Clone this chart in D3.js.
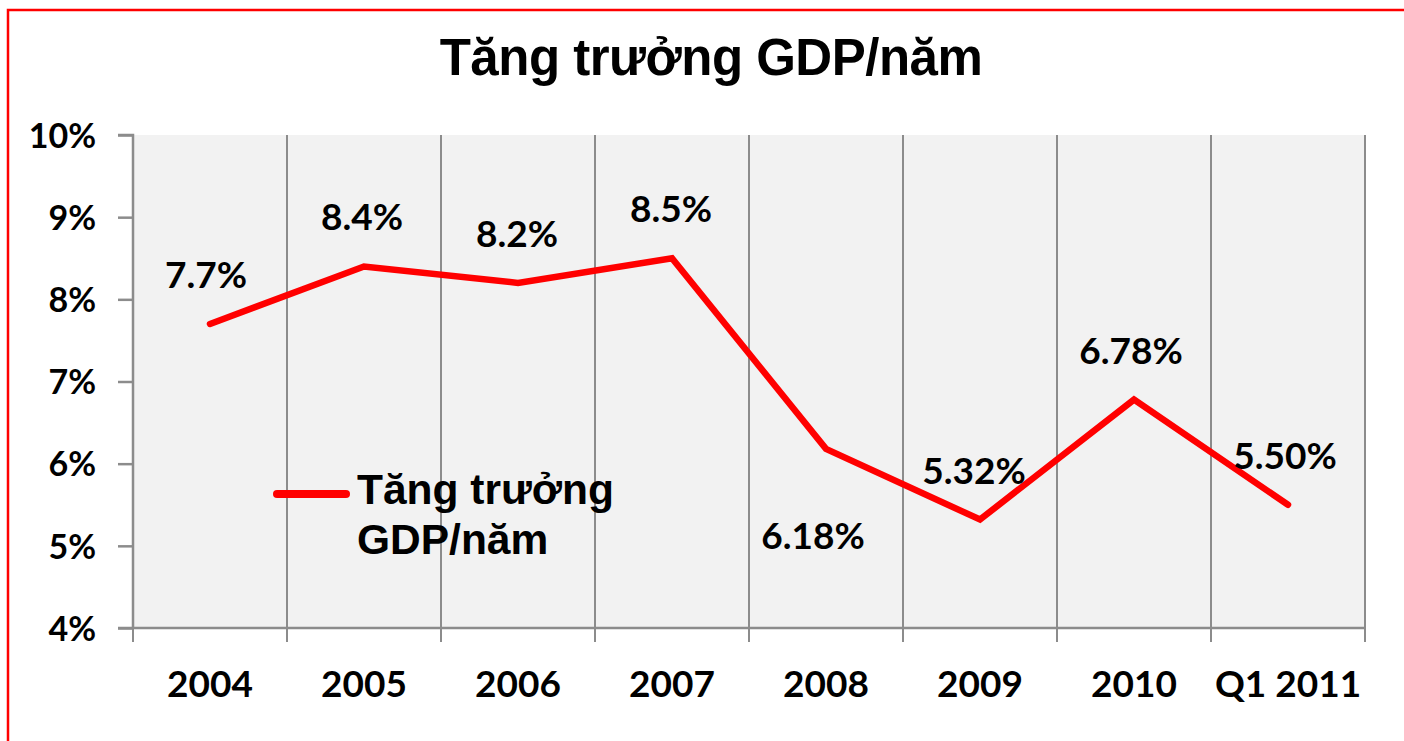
<!DOCTYPE html>
<html>
<head>
<meta charset="utf-8">
<script src="https://cdn.jsdelivr.net/npm/d3@7/dist/d3.min.js"></script>
<style>
  html, body { margin: 0; padding: 0; background: #fff; }
  svg { display: block; }
</style>
</head>
<body>
<svg id="chart" width="1404" height="741"></svg>
<script>
const categories = ["2004", "2005", "2006", "2007", "2008", "2009", "2010", "Q1 2011"];
const gdpGrowth = [7.7, 8.4, 8.2, 8.5, 6.18, 5.32, 6.78, 5.50];
const valueLabels = ["7.7%", "8.4%", "8.2%", "8.5%", "6.18%", "5.32%", "6.78%", "5.50%"];
const yTicks = [4, 5, 6, 7, 8, 9, 10];
const titleText = "Tăng trưởng GDP/năm";
const legendLines = ["Tăng trưởng", "GDP/năm"];

const svg = d3.select("#chart");
const W = 1404, H = 741;
const plot = { left: 133, top: 135, right: 1365, bottom: 628 };

// red frame (top and left visible)
svg.append("rect")
  .attr("x", 8).attr("y", 10)
  .attr("width", W + 20).attr("height", H + 20)
  .attr("fill", "none").attr("stroke", "#ff0000").attr("stroke-width", 2.5);

// title
svg.append("text")
  .attr("x", 711).attr("y", 75)
  .attr("text-anchor", "middle")
  .attr("font-family", "'Liberation Sans', Arial, sans-serif")
  .attr("font-weight", "bold")
  .attr("font-size", 51)
  .attr("letter-spacing", -0.5)
  .attr("fill", "#000")
  .text(titleText);

const x = d3.scaleBand().domain(categories).range([plot.left, plot.right]).padding(0);
const y = d3.scaleLinear().domain([4, 10]).range([plot.bottom, plot.top]);

// plot background
svg.append("rect")
  .attr("x", plot.left).attr("y", plot.top)
  .attr("width", plot.right - plot.left).attr("height", plot.bottom - plot.top)
  .attr("fill", "#f2f2f2");

const gridColor = "#8c8c8c";

// vertical gridlines at category boundaries (plus ticks below axis)
const boundaries = categories.map(c => x(c)).concat([plot.right]);
svg.append("g").selectAll("line").data(boundaries).join("line")
  .attr("x1", d => d).attr("x2", d => d)
  .attr("y1", plot.top).attr("y2", plot.bottom + 14)
  .attr("stroke", gridColor).attr("stroke-width", 2);

// y axis
const yAxis = d3.axisLeft(y).tickValues(yTicks).tickFormat(d => d + "%").tickSize(15).tickPadding(22);
const yg = svg.append("g").attr("transform", `translate(${plot.left},0)`).call(yAxis);
yg.select(".domain").attr("stroke", gridColor).attr("stroke-width", 2.5)
  .attr("d", `M-15,${plot.top}H0V${plot.bottom}`);
yg.selectAll(".tick line").attr("stroke", gridColor).attr("stroke-width", 2.5);
yg.selectAll(".tick text")
  .attr("font-family", "Lato, 'Open Sans', sans-serif")
  .attr("font-weight", "bold")
  .attr("font-size", 34)
  .attr("fill", "#000")
  .attr("dy", "0.36em");

// x axis
const xAxis = d3.axisBottom(x).tickSize(0).tickPadding(0);
const xg = svg.append("g").attr("transform", `translate(0,${plot.bottom})`).call(xAxis);
xg.select(".domain").attr("stroke", gridColor).attr("stroke-width", 2.5)
  .attr("d", `M${plot.left - 15},0H${plot.right}`);
xg.selectAll(".tick text")
  .attr("font-family", "Lato, 'Open Sans', sans-serif")
  .attr("font-weight", "bold")
  .attr("font-size", 37)
  .attr("fill", "#000")
  .attr("dy", null)
  .attr("y", 69);

// line
const cx = c => x(c) + x.bandwidth() / 2;
const line = d3.line().x((d, i) => cx(categories[i])).y(d => y(d));
svg.append("path")
  .datum(gdpGrowth)
  .attr("d", line)
  .attr("fill", "none")
  .attr("stroke", "#ff0000")
  .attr("stroke-width", 6.5)
  .attr("stroke-linejoin", "miter")
  .attr("stroke-linecap", "round");

// data labels
const labelBelow = [false, false, false, false, true, false, false, false];
const labelDx = [-4, -2, -1, -1, -13, -6, -3, -3];
svg.append("g").selectAll("text").data(gdpGrowth).join("text")
  .attr("x", (d, i) => cx(categories[i]) + labelDx[i])
  .attr("y", (d, i) => labelBelow[i] ? y(d) + 100 : y(d) - 36)
  .attr("text-anchor", "middle")
  .attr("font-family", "Lato, 'Open Sans', sans-serif")
  .attr("font-weight", "bold")
  .attr("font-size", 37)
  .attr("fill", "#000")
  .text((d, i) => valueLabels[i]);

// legend
const lg = svg.append("g");
lg.append("line")
  .attr("x1", 277).attr("x2", 346).attr("y1", 494).attr("y2", 494)
  .attr("stroke", "#ff0000").attr("stroke-width", 8).attr("stroke-linecap", "round");
lg.selectAll("text").data(legendLines).join("text")
  .attr("x", 357)
  .attr("y", (d, i) => 504 + i * 50)
  .attr("font-family", "'Liberation Sans', Arial, sans-serif")
  .attr("font-weight", "bold")
  .attr("font-size", 42.5)
  .attr("fill", "#000")
  .text(d => d);
</script>
</body>
</html>
